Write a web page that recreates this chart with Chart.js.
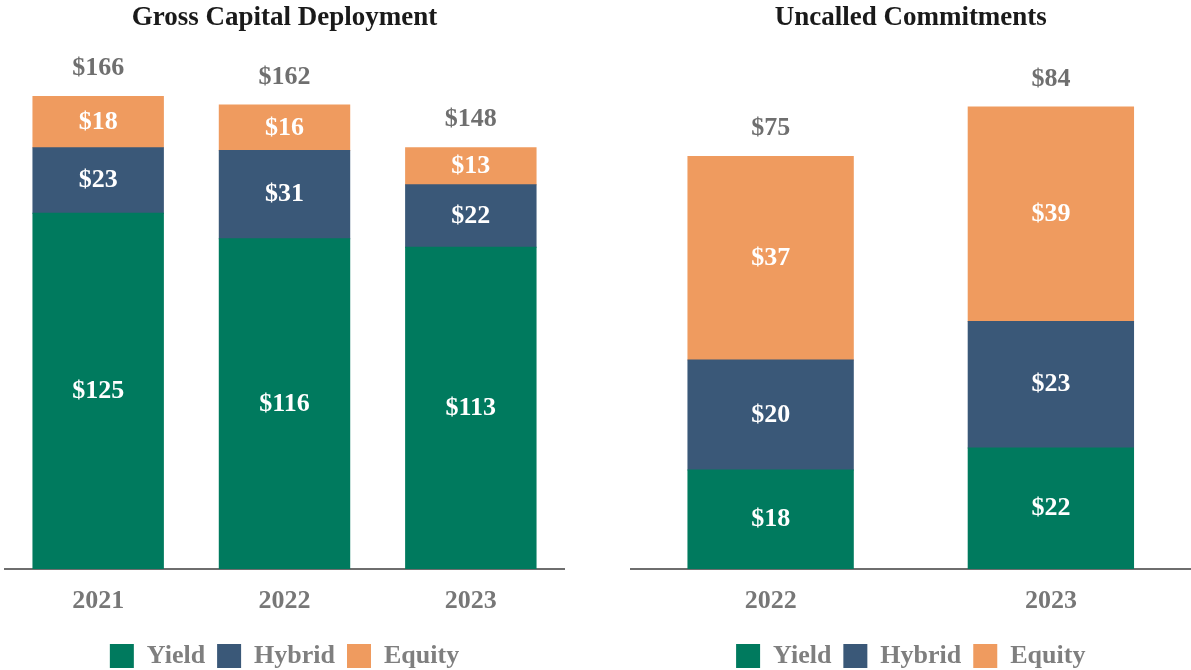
<!DOCTYPE html>
<html>
<head>
<meta charset="utf-8">
<script src="https://cdn.jsdelivr.net/npm/chart.js@4.4.0/dist/chart.umd.min.js"></script>
<style>
  html, body { margin: 0; padding: 0; background: #fff; overflow: hidden; }
  .box { position: absolute; top: 0; height: 679px; }
</style>
</head>
<body>
<div class="box" style="left:0;width:565px"><canvas id="deployChart"></canvas></div>
<div class="box" style="left:625px;width:566px"><canvas id="uncalledChart"></canvas></div>
<script>
// gross capital deployment
var deployYears = ['2021', '2022', '2023'];
var deployYield = [125, 116, 113];
var deployHybrid = [23, 31, 22];
var deployEquity = [18, 16, 13];
var deployTotals = [166, 162, 148];

// uncalled commitments
var uncalledYears = ['2022', '2023'];
var uncalledYield = [18, 22];
var uncalledHybrid = [20, 23];
var uncalledEquity = [37, 39];
var uncalledTotals = [75, 84];

var GREEN = '#007a5e';
var NAVY = '#3a5878';
var ORANGE = '#ef9b5f';
var FONT = "'Liberation Serif', 'Times New Roman', serif";

// value labels inside segments and totals on top
var barLabels = {
  id: 'barLabels',
  afterDatasetsDraw: function (chart, args, opts) {
    var ctx = chart.ctx;
    ctx.save();
    ctx.font = 'bold 26px ' + FONT;
    ctx.textAlign = 'center';
    ctx.textBaseline = 'middle';
    chart.data.datasets.forEach(function (ds, i) {
      var meta = chart.getDatasetMeta(i);
      meta.data.forEach(function (bar, j) {
        ctx.fillStyle = '#ffffff';
        ctx.fillText('$' + ds.data[j], bar.x, (bar.y + bar.base) / 2);
        if (i === chart.data.datasets.length - 1) {
          ctx.fillStyle = '#6f6f6f';
          ctx.fillText('$' + opts.totals[j], bar.x, bar.y - 28);
        }
      });
    });
    ctx.restore();
  }
};

function makeChart(id, title, labels, y, h, e, totals, yMax, barPct, padLeft, padRight) {
  return new Chart(document.getElementById(id).getContext('2d'), {
    type: 'bar',
    data: {
      labels: labels,
      datasets: [
        { label: 'Yield', data: y, backgroundColor: GREEN, borderWidth: 0, inflateAmount: 0.5 },
        { label: 'Hybrid', data: h, backgroundColor: NAVY, borderWidth: 0, inflateAmount: 0.5 },
        { label: 'Equity', data: e, backgroundColor: ORANGE, borderWidth: 0, inflateAmount: 0.5 }
      ]
    },
    options: {
      responsive: true,
      maintainAspectRatio: false,
      animation: false,
      layout: { padding: { left: padLeft, right: padRight, top: 0, bottom: 0 } },
      datasets: { bar: { categoryPercentage: 1, barPercentage: barPct } },
      plugins: {
        title: {
          display: true,
          text: title,
          color: '#1a1a1a',
          font: { family: FONT, size: 27, weight: 'bold' },
          padding: { top: 2, bottom: 6 }
        },
        legend: {
          position: 'bottom',
          labels: {
            color: '#7f7f7f',
            font: { family: FONT, size: 26, weight: 'bold' },
            boxWidth: 24,
            boxHeight: 24,
            padding: 12
          }
        },
        tooltip: { enabled: false },
        barLabels: { totals: totals }
      },
      scales: {
        x: {
          stacked: true,
          grid: { display: false, drawTicks: false },
          border: { display: true, color: '#6e6e6e', width: 2 },
          ticks: {
            color: '#777777',
            font: { family: FONT, size: 26, weight: 'bold' },
            padding: 17
          },
          afterFit: function (scale) { scale.height = 62; }
        },
        y: {
          stacked: true,
          display: false,
          min: 0,
          max: yMax
        }
      }
    },
    plugins: [barLabels]
  });
}

makeChart('deployChart', 'Gross Capital Deployment', deployYears,
  deployYield, deployHybrid, deployEquity, deployTotals, 185.7, 0.7, 5, 1);
makeChart('uncalledChart', 'Uncalled Commitments', uncalledYears,
  uncalledYield, uncalledHybrid, uncalledEquity, uncalledTotals, 96.1, 0.59, 5.5, 0);
</script>
</body>
</html>
